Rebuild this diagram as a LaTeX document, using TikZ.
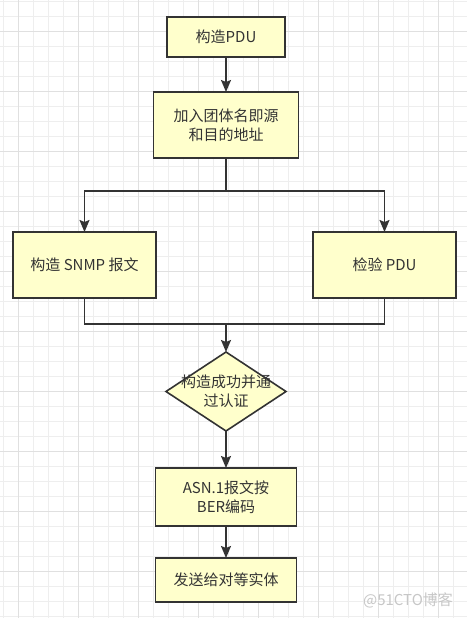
\documentclass[tikz,border=0pt]{standalone}
\usepackage{fontspec}
\setmainfont{Noto Sans CJK SC}
\usetikzlibrary{arrows.meta, positioning, calc, shapes.geometric}

\definecolor{boxfill}{HTML}{FFFFCC}
\definecolor{boxline}{HTML}{333333}
\definecolor{gridlight}{HTML}{EEEEEE}
\definecolor{griddark}{HTML}{E0E0E0}

\begin{document}
\begin{tikzpicture}[
    x=1pt, y=-1pt,
    process/.style={rectangle, draw=boxline, line width=1.6pt, fill=boxfill, text=boxline,
        inner sep=0pt, outer sep=0pt, align=center, font=\fontsize{15}{19}\selectfont},
    decision/.style={diamond, draw=boxline, line width=1.6pt, fill=boxfill,
        inner sep=0pt, outer sep=0pt, minimum width=120pt, minimum height=79pt},
    inside/.style={text=boxline, align=center, font=\fontsize{15}{19}\selectfont},
    link/.style={draw=boxline, line width=1.6pt},
    flow/.style={link, -{Stealth[length=12pt, width=10pt, inset=2pt]}}
]

% 背景网格
\useasboundingbox (0,0) rectangle (467,618);
\fill[white] (0,0) rectangle (467,618);
\foreach \x in {3.3,18.3,...,467} {
    \draw[gridlight, line width=0.8pt] (\x,0) -- (\x,618);
}
\foreach \y in {1.7,16.7,...,618} {
    \draw[gridlight, line width=0.8pt] (0,\y) -- (467,\y);
}
\foreach \x in {18.3,78.3,...,467} {
    \draw[griddark, line width=0.8pt] (\x,0) -- (\x,618);
}
\foreach \y in {31.7,91.7,...,618} {
    \draw[griddark, line width=0.8pt] (0,\y) -- (467,\y);
}

% 流程节点
\node[process, minimum width=118pt, minimum height=40pt] (pdu) at (226,37) {构造PDU};
\node[process, minimum width=145pt, minimum height=66pt] (addr) at (226,125) {加入团体名即源\\和目的地址};
\node[process, minimum width=143pt, minimum height=66pt] (snmp) at (84.5,265) {构造 SNMP 报文};
\node[process, minimum width=143pt, minimum height=66pt] (check) at (384.5,265) {检验 PDU};
\node[decision, label={[inside]center:构造成功并通\\过认证}] (ok) at (226,391.5) {};
\node[process, minimum width=141pt, minimum height=58pt] (ber) at (226,497) {ASN.1报文按\\BER编码};
\node[process, minimum width=141pt, minimum height=44pt] (send) at (226,580) {发送给对等实体};

% 分支与汇合点
\coordinate (fork) at (226,191);
\coordinate (join) at (226,324);

% 连线
\draw[flow] (pdu) -- (addr);
\draw[link] (addr) -- (fork);
\draw[flow] (fork) -| (snmp);
\draw[flow] (fork) -| (check);
\draw[link] (snmp) |- (join);
\draw[link] (check) |- (join);
\draw[flow] (join) -- (ok);
\draw[flow] (ok) -- (ber);
\draw[flow] (ber) -- (send);

% 水印
\node[text=black!22, font=\fontsize{15}{16}\selectfont] (mark) at (408,600) {@51CTO博客};

\end{tikzpicture}
\end{document}
